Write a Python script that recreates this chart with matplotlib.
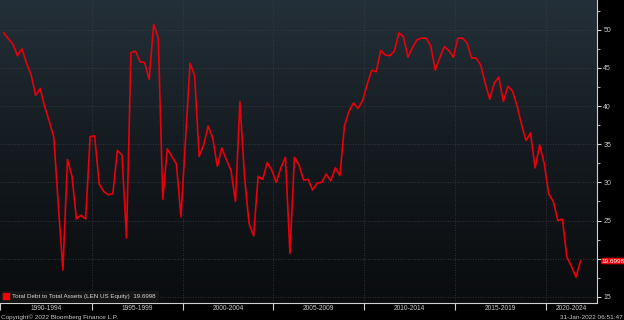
import numpy as np
import pandas as pd
import matplotlib
matplotlib.use("Agg")
import matplotlib.pyplot as plt
import matplotlib.dates as mdates
from matplotlib.lines import Line2D
from matplotlib.colors import LinearSegmentedColormap
from datetime import datetime

# ---- data (quarterly, fiscal quarter ends Feb/May/Aug/Nov) ----
start_date = "1990-02-28"
values = [
    49.6, 48.8, 48.1, 46.6, 47.5, 45.6, 44.1, 41.4, 42.3, 39.9,
    38.0, 35.9, 27.0, 18.5, 33.0, 30.8, 25.2, 25.7, 25.2, 36.0,
    36.1, 29.8, 28.8, 28.4, 28.5, 34.2, 33.6, 22.7, 47.0, 47.2,
    45.8, 45.7, 43.5, 50.7, 48.9, 27.8, 34.4, 33.4, 32.4, 25.5,
    35.5, 45.6, 44.0, 33.4, 34.9, 37.4, 35.8, 32.1, 34.5, 33.0,
    31.6, 27.5, 40.6, 30.8, 24.6, 23.0, 30.8, 30.4, 32.6, 31.6,
    30.0, 31.9, 33.3, 20.7, 33.3, 32.3, 30.3, 30.4, 29.0, 29.9,
    30.0, 31.1, 30.2, 31.9, 30.9, 37.4, 39.3, 40.4, 39.7, 40.7,
    42.8, 44.7, 44.5, 47.3, 46.7, 46.6, 47.2, 49.6, 49.1, 46.4,
    47.7, 48.7, 48.9, 48.9, 47.9, 44.7, 46.3, 47.8, 47.3, 46.4,
    48.9, 48.9, 48.3, 46.3, 46.3, 45.4, 43.0, 40.9, 43.0, 43.8,
    40.6, 42.6, 42.0, 40.1, 37.6, 35.5, 36.5, 31.9, 34.9, 32.5,
    28.5, 27.5, 25.0, 25.2, 20.2, 19.0, 17.6, 19.6998,
]
period_labels = ["1990-1994", "1995-1999", "2000-2004", "2005-2009",
                 "2010-2014", "2015-2019", "2020-2024"]
period_starts = [1990, 1995, 2000, 2005, 2010, 2015, 2020]
y_major = [15, 20, 25, 30, 35, 40, 45, 50]
series_name = "Total Debt to Total Assets (LEN US Equity)"
last_label = "19.6998"
copyright_text = "Copyright\u00a9 2022 Bloomberg Finance L.P."
stamp_text = "31-Jan-2022 06:51:47"

dates = pd.date_range(start=start_date, periods=len(values), freq="3ME")

# ---- figure ----
W, H = 624, 320
fig = plt.figure(figsize=(W / 100, H / 100), dpi=100, facecolor="black")
ax = fig.add_axes([0.0, 17 / H, 597 / W, 1 - 17 / H])
ax.set_facecolor("black")

xmin = mdates.date2num(datetime(1989, 12, 13))
xmax = mdates.date2num(datetime(2022, 10, 27))
ymin, ymax = 14.2, 53.9

# gradient background
grad = np.linspace(0, 1, 256).reshape(-1, 1)
cmap = LinearSegmentedColormap.from_list("bg", ["#0a0c0e", "#141a1f", "#243039"])
ax.imshow(grad, aspect="auto", cmap=cmap, origin="lower",
          extent=[xmin, xmax, ymin, ymax], zorder=0)

# grid
for yv in y_major:
    ax.axhline(yv, color="#3a3f44", lw=0.6, ls=(0, (1, 2)), zorder=1)
for ps in period_starts[1:]:
    ax.axvline(mdates.date2num(datetime(ps, 1, 1)), color="#3a3f44", lw=0.6,
               ls=(0, (1, 2)), zorder=1)

ax.plot(dates, values, color="#e8000b", lw=1.2, zorder=3)

ax.set_xlim(xmin, xmax)
ax.set_ylim(ymin, ymax)

# y axis on right
ax.yaxis.tick_right()
ax.set_yticks(y_major)
ax.set_yticks(np.arange(17.5, 53, 5), minor=True)
ax.tick_params(axis="y", which="major", colors="#d0d0d0", labelsize=5,
               length=3, width=0.8, pad=1.5, labelcolor="#c8c8c8")
ax.tick_params(axis="y", which="minor", colors="#d0d0d0", length=2, width=0.6)
for lab, yv in zip(ax.get_yticklabels(), y_major):
    lab.set_family("Liberation Sans")
    # the last-value tag covers the label nearest to it
    if abs(yv - values[-1]) < 1.5:
        lab.set_visible(False)

# x axis: period separators as minor ticks, labels at centers
sep = [mdates.date2num(datetime(p, 1, 1)) for p in period_starts[1:]] + [xmin]
ax.set_xticks(sep, minor=True)
centers = []
for i, p in enumerate(period_starts):
    a = max(mdates.date2num(datetime(p, 1, 1)), xmin)
    b = min(mdates.date2num(datetime(p + 5, 1, 1)), xmax)
    centers.append((a + b) / 2)
ax.set_xticks(centers)
ax.set_xticklabels(period_labels, family="Liberation Sans")
ax.tick_params(axis="x", which="major", length=0, labelsize=4.8, pad=1.2,
               labelcolor="#c8c8c8")
ax.tick_params(axis="x", which="minor", length=5, width=0.8, colors="#d0d0d0")

for s in ["top", "left"]:
    ax.spines[s].set_visible(False)
ax.spines["right"].set_color("#d0d0d0")
ax.spines["right"].set_linewidth(0.8)
ax.spines["bottom"].set_color("#d0d0d0")
ax.spines["bottom"].set_linewidth(0.8)

# legend
handle = Line2D([], [], marker="s", color="none", markerfacecolor="#ff0000",
                markeredgecolor="#ff0000", markersize=4)
leg = ax.legend([handle], [f"{series_name}  {values[-1]:.4f}"], loc="lower left",
                bbox_to_anchor=(0, 0), borderaxespad=0.1, frameon=True,
                facecolor="#151515", edgecolor="none", framealpha=1,
                prop={"family": "Liberation Sans", "size": 4.5},
                handlelength=0.8, handletextpad=0.5, borderpad=0.5)
for t in leg.get_texts():
    t.set_color("#d8d8d8")

# last value tag
ax.annotate(last_label, xy=(1.0, values[-1]), xycoords=("axes fraction", "data"),
            xytext=(3.5, 0), textcoords="offset points", ha="left", va="center",
            fontsize=4.6, family="Liberation Sans", color="white", zorder=10,
            bbox=dict(boxstyle="round,pad=0.12,rounding_size=0.2",
                      fc="#e8000b", ec="none"), annotation_clip=False)

fig.text(0.002, 0.0, copyright_text, fontsize=4.6, family="Liberation Sans",
         color="#c8c8c8", ha="left", va="bottom")
fig.text(0.998, 0.0, stamp_text, fontsize=4.6, family="Liberation Sans",
         color="#c8c8c8", ha="right", va="bottom")

fig.savefig("out.png", dpi=100, facecolor="black")
